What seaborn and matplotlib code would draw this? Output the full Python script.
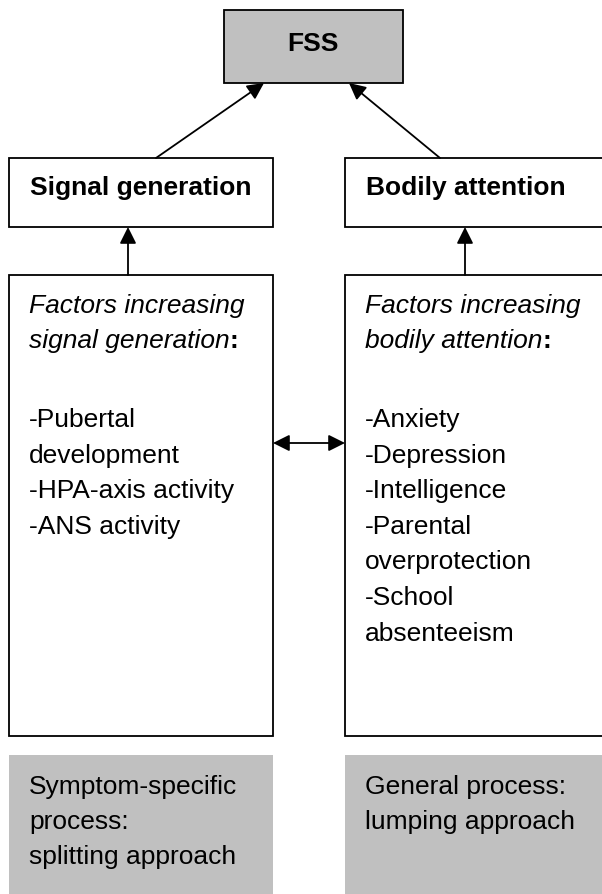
"""
FSS model diagram: signal generation vs bodily attention
"""

import matplotlib.pyplot as plt
import seaborn as sns
from matplotlib.patches import Rectangle

# ---- diagram content ----
top_label = 'FSS'
mid_labels = ['Signal generation', 'Bodily attention']
factor_heads = [['Factors increasing', 'signal generation'],
                ['Factors increasing', 'bodily attention']]
factor_items = [['-Pubertal', 'development', '-HPA-axis activity', '-ANS activity'],
                ['-Anxiety', '-Depression', '-Intelligence', '-Parental',
                 'overprotection', '-School', 'absenteeism']]
process_labels = [['Symptom-specific', 'process:', 'splitting approach'],
                  ['General process:', 'lumping approach']]

# ---- layout (pixels, y downwards) ----
GREY = '#c0c0c0'
FS = 19
LW = 1.3
col_x = [9, 345]
col_w = [264, 300]
text_x = [29, 365]


def setup_style():
    sns.set_theme(style="white")
    plt.rcParams['font.family'] = ['Liberation Sans', 'DejaVu Sans']
    plt.rcParams['text.color'] = 'black'


def box(ax, x, y, w, h, fc='white', lw=LW, ec='black'):
    ax.add_patch(Rectangle((x, y), w, h, facecolor=fc, edgecolor=ec, lw=lw))


def arrow(ax, tail, tip, style='-|>'):
    ax.annotate('', xy=tip, xytext=tail,
                arrowprops=dict(arrowstyle=f'{style},head_length=0.5,head_width=0.25',
                                mutation_scale=20, lw=LW, color='black',
                                shrinkA=0, shrinkB=0))


def draw(ax):
    # top grey box
    box(ax, 224, 10, 179, 73, fc=GREY)
    ax.text(313, 51, top_label, ha='center', va='baseline',
            fontsize=FS, fontweight='bold')

    for i in range(2):
        x, w, tx = col_x[i], col_w[i], text_x[i]
        # middle box
        box(ax, x, 158, w, 69)
        ax.text(tx + 1, 195, mid_labels[i], ha='left', va='baseline',
                fontsize=FS, fontweight='bold')
        # factors box
        box(ax, x, 275, w, 461)
        ax.text(tx, 313, factor_heads[i][0], ha='left', va='baseline',
                fontsize=FS, style='italic')
        t = ax.text(tx, 348, factor_heads[i][1], ha='left', va='baseline',
                    fontsize=FS, style='italic')
        ax.annotate(':', xy=(1, 0), xycoords=t, ha='left', va='bottom',
                    fontsize=FS, fontweight='bold')
        for j, line in enumerate(factor_items[i]):
            ax.text(tx, 427 + j * 35.6, line, ha='left', va='baseline', fontsize=FS)
        # process grey box
        ax.add_patch(Rectangle((x, 755), w, 160, facecolor=GREY, edgecolor='none'))
        for j, line in enumerate(process_labels[i]):
            ax.text(tx, 794 + j * 35, line, ha='left', va='baseline', fontsize=FS)

    # arrows
    arrow(ax, (156, 158), (264, 83))
    arrow(ax, (440, 158), (349, 83))
    arrow(ax, (128, 275), (128, 227))
    arrow(ax, (465, 275), (465, 227))
    arrow(ax, (273, 443), (345, 443), style='<|-|>')


if __name__ == "__main__":
    setup_style()
    fig = plt.figure(figsize=(6.02, 8.94), dpi=100)
    ax = fig.add_axes([0, 0, 1, 1])
    ax.set_xlim(0, 602)
    ax.set_ylim(894, 0)
    ax.axis('off')
    draw(ax)
    fig.savefig('out.png', dpi=100, facecolor='white')
    plt.close(fig)
